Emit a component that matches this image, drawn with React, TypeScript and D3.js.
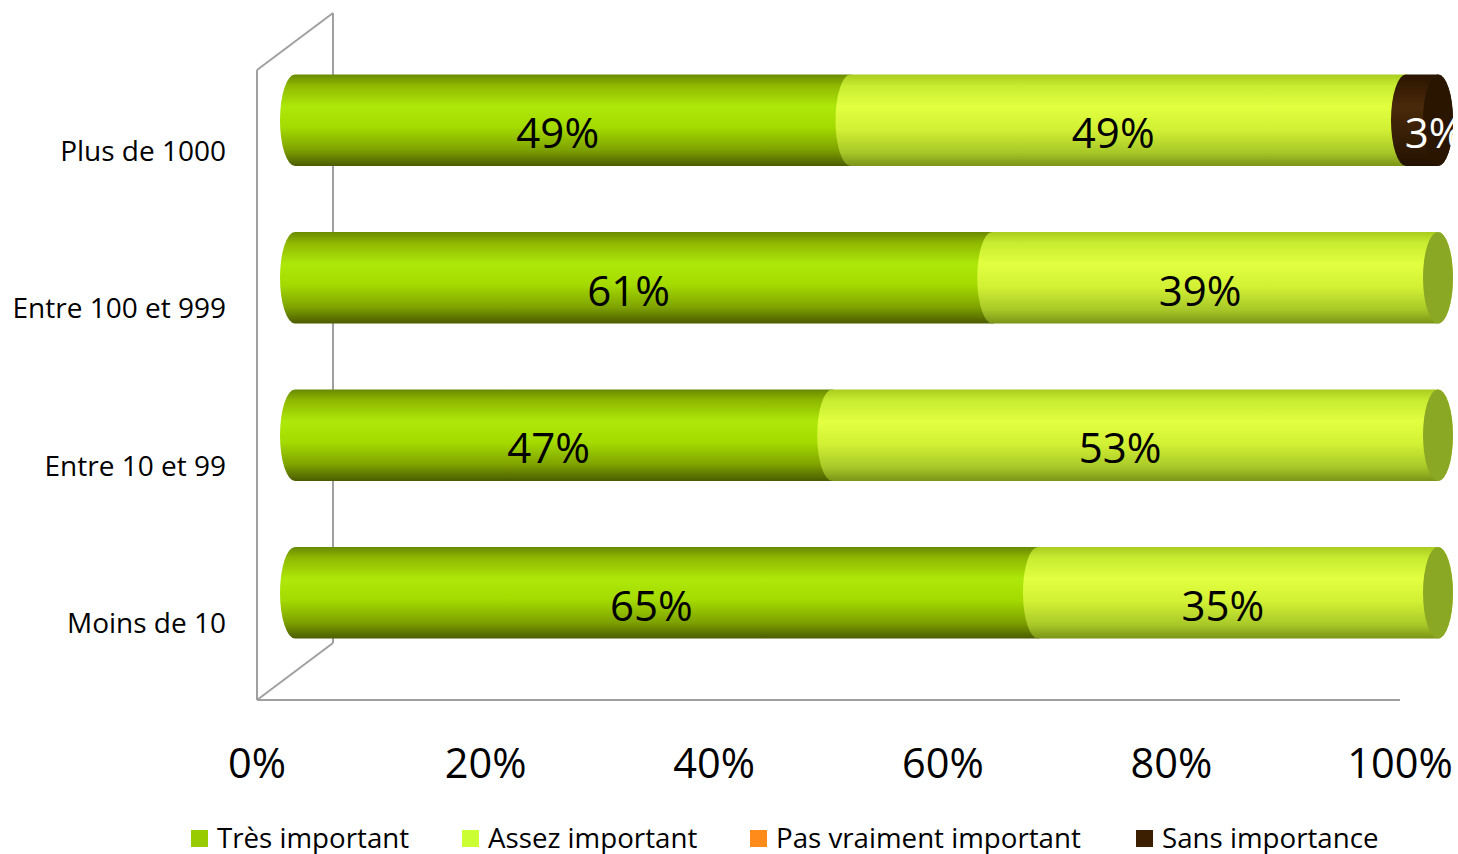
import React from 'react';
import * as d3 from 'd3';

const categories = ['Plus de 1000', 'Entre 100 et 999', 'Entre 10 et 99', 'Moins de 10'];
const seriesNames = ['Très important', 'Assez important', 'Pas vraiment important', 'Sans importance'];
const tresImportant = [48.6, 61, 47, 65];
const assezImportant = [48.6, 39, 53, 35];
const pasVraimentImportant = [0, 0, 0, 0];
const sansImportance = [2.8, 0, 0, 0];
const xTicks = [0, 20, 40, 60, 80, 100];

const legendColors = ['#99cc00', '#ccff33', '#ff8c1a', '#3c1e00'];
const capColors = ['#7a9a10', '#8aa823', '#c06010', '#2a1600'];
const gradStops: [number, string][][] = [
  [[0, '#6a8a00'], [0.12, '#8fb800'], [0.35, '#aee80a'], [0.58, '#a4da00'], [0.82, '#7fa300'], [1, '#4b5c00']],
  [[0, '#a9cc20'], [0.12, '#c8ec30'], [0.35, '#e2ff40'], [0.6, '#d2f034'], [0.85, '#a8c828'], [1, '#7c9418']],
  [[0, '#c06010'], [0.35, '#ff9a30'], [1, '#a05008']],
  [[0, '#2a1400'], [0.35, '#4a2a0a'], [1, '#241200']],
];

const FONT = '"Open Sans", sans-serif';

export default function App() {
  const series = [tresImportant, assezImportant, pasVraimentImportant, sansImportance];
  const x0 = 257, x1 = 1400, yTop = 70, yBot = 700;
  const depthX = 76, depthY = -57;
  const offX = depthX / 2, offY = depthY / 2;
  const x = d3.scaleLinear().domain([0, 100]).range([x0, x1]);
  const y = d3.scaleBand<string>().domain(categories).range([yTop, yBot]).paddingInner(0.42).paddingOuter(0.21);
  const bw = y.bandwidth();
  const rx = 15;
  const ry = bw / 2;

  const bars: JSX.Element[] = [];
  const labels: JSX.Element[] = [];
  categories.forEach((cat, ci) => {
    const top = (y(cat) as number) + offY;
    const bot = top + bw;
    let cum = 0;
    const segs: { s: number; a: number; b: number }[] = [];
    series.forEach((vals, si) => {
      const v = vals[ci];
      if (v > 0) segs.push({ s: si, a: cum, b: cum + v });
      cum += v;
    });
    segs.forEach((sg, k) => {
      const xa = x(sg.a) + offX;
      const xb = x(sg.b) + offX;
      const p = `M${xa},${top} L${xb},${top} A${rx},${ry} 0 0 1 ${xb},${bot} L${xa},${bot} A${rx},${ry} 0 0 1 ${xa},${top} Z`;
      bars.push(<path key={`b${ci}-${k}`} d={p} fill={`url(#g${sg.s})`} />);
      if (k === segs.length - 1) {
        bars.push(<ellipse key={`c${ci}`} cx={xb} cy={(top + bot) / 2} rx={rx} ry={ry} fill={capColors[sg.s]} />);
      }
      const v = sg.b - sg.a;
      let cx = (xa + xb) / 2 - rx;
      if (v < 5) cx = xb - 4;
      labels.push(
        <text key={`l${ci}-${k}`} x={cx} y={(top + bot) / 2 + 13} dy="0.36em" textAnchor="middle"
          fontFamily={FONT} fontSize={42} fill={sg.s === 3 ? '#ffffff' : '#000000'}>
          {Math.round(v)}%
        </text>
      );
    });
  });

  const legendX = [191, 462, 750, 1136];

  return (
    <div style={{ position: 'absolute', left: 0, top: 0 }}>
      <svg width={1458} height={854} style={{ display: 'block' }}>
        <defs>
          {gradStops.map((stops, i) => (
            <linearGradient key={i} id={`g${i}`} x1="0" y1="0" x2="0" y2="1">
              {stops.map(([o, c], j) => <stop key={j} offset={o} stopColor={c} />)}
            </linearGradient>
          ))}
          <clipPath id="clipArea"><rect x={0} y={0} width={1454} height={854} /></clipPath>
        </defs>
        <rect x={0} y={0} width={1458} height={854} fill="#ffffff" />
        <g stroke="#a0a0a0" strokeWidth={2} fill="none">
          <line x1={x0 + depthX} y1={yTop + depthY} x2={x0 + depthX} y2={yBot + depthY} />
          <line x1={x0} y1={yTop} x2={x0} y2={yBot} />
          <line x1={x0} y1={yTop} x2={x0 + depthX} y2={yTop + depthY} />
          <line x1={x0} y1={yBot} x2={x0 + depthX} y2={yBot + depthY} />
          <line x1={x0} y1={yBot} x2={x1} y2={yBot} />
        </g>
        <g>{bars}</g>
        <g clipPath="url(#clipArea)">{labels}</g>
        {categories.map((c) => (
          <text key={c} x={226} y={(y(c) as number) + bw / 2 + 2} dy="0.36em" textAnchor="end"
            fontFamily={FONT} fontSize={28} fill="#000">{c}</text>
        ))}
        {xTicks.map((t) => (
          <text key={t} x={x(t)} y={763} dy="0.36em" textAnchor="middle" fontFamily={FONT} fontSize={41.5} fill="#000">
            {t}%
          </text>
        ))}
        {seriesNames.map((n, i) => (
          <g key={n}>
            <rect x={legendX[i]} y={830} width={17} height={17} fill={legendColors[i]} />
            <text x={legendX[i] + 26} y={838} dy="0.36em" fontFamily={FONT} fontSize={27.7} fill="#000">{n}</text>
          </g>
        ))}
      </svg>
    </div>
  );
}
